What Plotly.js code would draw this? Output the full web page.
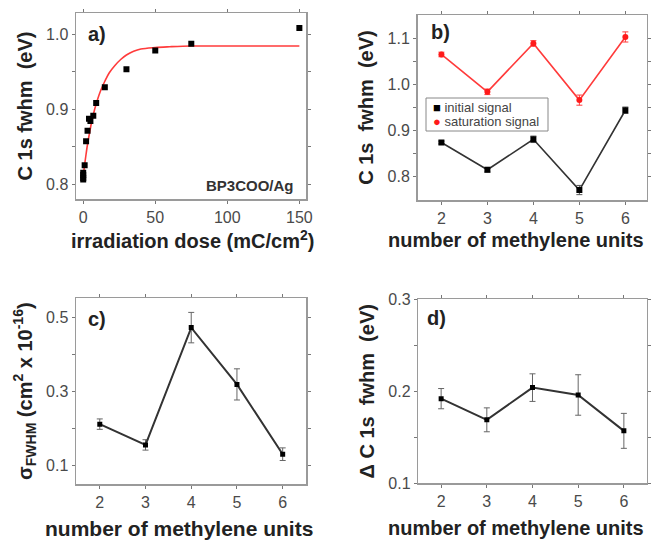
<!DOCTYPE html>
<html><head><meta charset="utf-8">
<script src="https://cdn.plot.ly/plotly-3.0.1.min.js"></script>
<style>html,body{margin:0;padding:0;background:#fff}#chart{width:655px;height:547px}</style>
</head><body><div id="chart"></div>
<script>
// Panel a: C 1s fwhm vs irradiation dose
const doseA = [0, 0, 0, 0, 1, 2, 3, 4, 5, 7, 9, 15, 30, 50, 75, 150];
const fwhmA = [0.806, 0.808, 0.812, 0.815, 0.825, 0.857, 0.871, 0.887, 0.884, 0.891, 0.908, 0.929, 0.953, 0.978, 0.987, 1.008];
// fit curve
const fitDose = [0, 1, 2, 3, 4, 6, 8, 10, 12, 15, 18, 22, 26, 30, 35, 40, 50, 60, 75, 100, 150];
const fitFwhm = [0.810, 0.826, 0.840, 0.853, 0.864, 0.884, 0.900, 0.913, 0.924, 0.937, 0.948, 0.958, 0.966, 0.972, 0.977, 0.980, 0.982, 0.983, 0.984, 0.984, 0.984];

// Panel b
const units = [2, 3, 4, 5, 6];
const initialFwhm = [0.874, 0.815, 0.881, 0.771, 0.944];
const initialErr = [0.003, 0.005, 0.007, 0.010, 0.007];
const saturationFwhm = [1.065, 0.984, 1.089, 0.966, 1.103];
const saturationErr = [0.005, 0.006, 0.006, 0.011, 0.011];
const legendLabels = ['initial signal', 'saturation signal'];

// Panel c
const sigmaFwhm = [0.212, 0.156, 0.472, 0.319, 0.131];
const sigmaErr = [0.014, 0.014, 0.041, 0.042, 0.017];

// Panel d
const deltaFwhm = [0.192, 0.169, 0.204, 0.196, 0.157];
const deltaErr = [0.011, 0.013, 0.015, 0.022, 0.019];

const FONT = '"Liberation Sans", Arial, sans-serif';
const TICKC = '#4a4a4a';
const TITLEC = '#222';
const FRAME = '#9a9a9a';
const nb = '\u00a0';
const W = 655, H = 547;
const px = v => v / W, py = v => 1 - v / H;

function ax(extra) {
  return Object.assign({
    showline: true, linecolor: FRAME, linewidth: 1.5, mirror: 'ticks',
    ticks: 'outside', ticklen: 3, tickcolor: '#777', tickwidth: 1,
    showgrid: false, zeroline: false,
    tickfont: {family: FONT, size: 16, color: TICKC}
  }, extra);
}
function ttl(text, standoff) {
  return {text: text, standoff: standoff, font: {family: FONT, size: 20, color: TITLEC, weight: 'bold'}};
}

const traces = [
  {x: fitDose, y: fitFwhm, mode: 'lines', line: {color: '#ff3b3b', width: 1.6, shape: 'spline'}, xaxis: 'x', yaxis: 'y'},
  {x: doseA, y: fwhmA, mode: 'markers', marker: {symbol: 'square', size: 6, color: '#000'}, xaxis: 'x', yaxis: 'y'},
  {x: units, y: saturationFwhm, mode: 'lines+markers',
   line: {color: '#ff3b3b', width: 1.6}, marker: {symbol: 'circle', size: 6, color: '#ff1a1a'},
   error_y: {type: 'data', array: saturationErr, color: '#ff3b3b', thickness: 1, width: 3},
   xaxis: 'x2', yaxis: 'y2'},
  {x: units, y: initialFwhm, mode: 'lines+markers',
   line: {color: '#333', width: 1.6}, marker: {symbol: 'square', size: 6, color: '#000'},
   error_y: {type: 'data', array: initialErr, color: '#555', thickness: 1, width: 3},
   xaxis: 'x2', yaxis: 'y2'},
  {x: units, y: sigmaFwhm, mode: 'lines+markers', line: {color: '#333', width: 2}, marker: {symbol: 'square', size: 5, color: '#000'},
   error_y: {type: 'data', array: sigmaErr, color: '#666', thickness: 1, width: 3},
   xaxis: 'x3', yaxis: 'y3'},
  {x: units, y: deltaFwhm, mode: 'lines+markers', line: {color: '#333', width: 2}, marker: {symbol: 'square', size: 5, color: '#000'},
   error_y: {type: 'data', array: deltaErr, color: '#666', thickness: 1, width: 3},
   xaxis: 'x4', yaxis: 'y4'}
];

const lab = (t, x, y) => ({text: '<b>' + t + '</b>', xref: 'paper', yref: 'paper', x: px(x), y: py(y),
  xanchor: 'left', yanchor: 'middle', showarrow: false, font: {family: FONT, size: 20, color: TITLEC}});
const xt = (t, x, y, s) => ({text: '<b>' + t + '</b>', xref: 'paper', yref: 'paper', x: px(x), y: py(y),
  xanchor: 'center', yanchor: 'middle', showarrow: false, font: {family: FONT, size: s, color: TITLEC}});

const layout = {
  width: W, height: H, margin: {l: 0, r: 0, t: 0, b: 0},
  paper_bgcolor: '#fff', plot_bgcolor: '#fff', showlegend: false,
  font: {family: FONT},
  xaxis: ax({domain: [px(76), px(306)], range: [-5, 154.6], tickvals: [0, 50, 100, 150], anchor: 'y'}),
  yaxis: ax({domain: [py(199), py(13)], range: [0.780, 1.028], anchor: 'x',
    tickvals: [0.8, 0.85, 0.9, 0.95, 1.0], ticktext: ['0.8', '', '0.9', '', '1.0'],
    title: ttl('C 1s fwhm' + nb + nb + '(eV)', 8)}),
  xaxis2: ax({domain: [px(417.5), px(646.5)], range: [1.48, 6.46], tickvals: units, anchor: 'y2'}),
  yaxis2: ax({domain: [py(200), py(15)], range: [0.7494, 1.1506], anchor: 'x2',
    tickvals: [0.8, 0.85, 0.9, 0.95, 1.0, 1.05, 1.1], ticktext: ['0.8', '', '0.9', '', '1.0', '', '1.1'],
    title: ttl('C 1s' + nb + nb + 'fwhm' + nb + nb + '(eV)', 8)}),
  xaxis3: ax({domain: [px(76), px(306)], range: [1.48, 6.51], tickvals: units, anchor: 'y3'}),
  yaxis3: ax({domain: [py(484), py(298.3)], range: [0.0507, 0.551], anchor: 'x3',
    tickvals: [0.1, 0.2, 0.3, 0.4, 0.5], ticktext: ['0.1', '', '0.3', '', '0.5'],
    title: ttl('σ<sub>FWHM</sub> (cm<sup>2</sup> x 10<sup>-16</sup>)', 8)}),
  xaxis4: ax({domain: [px(418.3), px(646.7)], range: [1.5, 6.5], tickvals: units, anchor: 'y4'}),
  yaxis4: ax({domain: [py(483.3), py(299.3)], range: [0.1, 0.3], anchor: 'x4',
    tickvals: [0.1, 0.15, 0.2, 0.25, 0.3], ticktext: ['0.1', '', '0.2', '', '0.3'],
    title: ttl('Δ C 1s' + nb + nb + 'fwhm' + nb + nb + '(eV)', 8)}),
  shapes: [
    {type: 'rect', xref: 'paper', yref: 'paper', x0: px(426), x1: px(548), y0: py(131), y1: py(98),
     fillcolor: '#fff', line: {color: '#888', width: 1}, layer: 'above'}
  ],
  annotations: [
    lab('a)', 86, 34), lab('b)', 429, 32), lab('c)', 86, 319), lab('d)', 425, 318),
    xt('irradiation dose (mC/cm<sup>2</sup>)', 192, 240, 20),
    xt('number of methylene units', 516, 240, 20),
    xt('number of methylene units', 179, 528, 21),
    xt('number of methylene units', 516, 528, 20),
    {text: '<b>BP3COO/Ag</b>', xref: 'paper', yref: 'paper', x: px(296), y: py(185), xanchor: 'right', yanchor: 'middle',
     showarrow: false, font: {family: FONT, size: 15, color: '#333'}},
    {text: '<span style="color:#000">■</span> ' + legendLabels[0], xref: 'paper', yref: 'paper', x: px(431), y: py(107.5),
     xanchor: 'left', yanchor: 'middle', showarrow: false, font: {family: FONT, size: 13, color: '#444'}},
    {text: '<span style="color:#ff1a1a">●</span> ' + legendLabels[1], xref: 'paper', yref: 'paper', x: px(431), y: py(122),
     xanchor: 'left', yanchor: 'middle', showarrow: false, font: {family: FONT, size: 13, color: '#444'}}
  ]
};

Plotly.newPlot('chart', traces, layout, {staticPlot: true, displayModeBar: false});
</script>
</body></html>
